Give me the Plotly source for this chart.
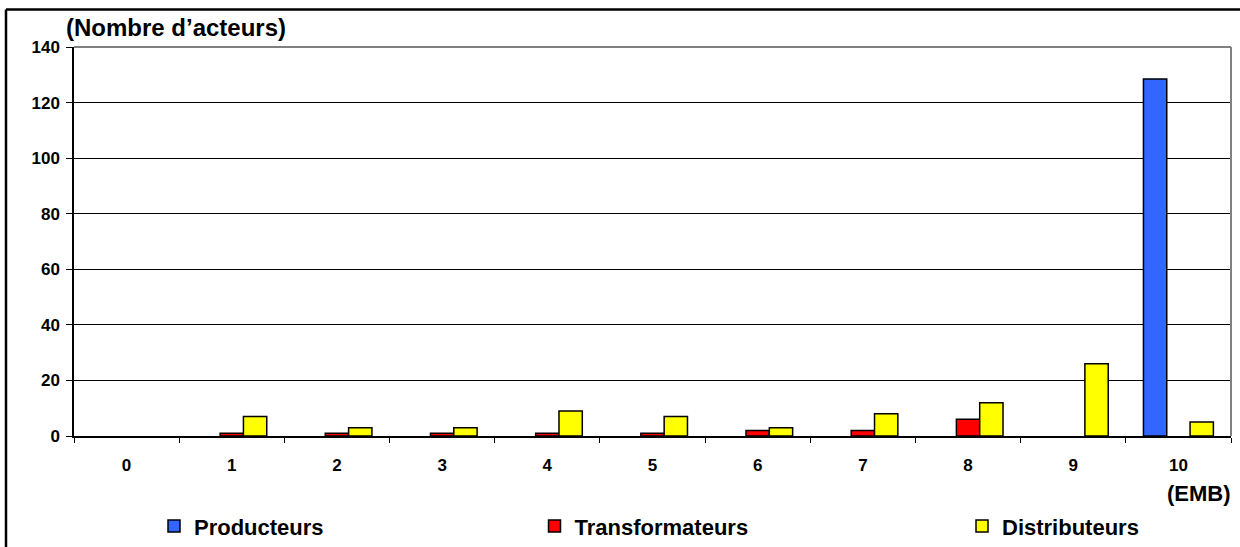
import plotly.graph_objects as go

categories = ["0", "1", "2", "3", "4", "5", "6", "7", "8", "9", "10"]
producteurs = [0, 0, 0, 0, 0, 0, 0, 0, 0, 0, 128.5]
transformateurs = [0, 1, 1, 1, 1, 1, 2, 2, 6, 0, 0]
distributeurs = [0, 7, 3, 3, 9, 7, 3, 8, 12, 26, 5]
y_ticks = [0, 20, 40, 60, 80, 100, 120, 140]

FONT = "Liberation Sans, Arial, sans-serif"
W, H = 1240, 547
L, R, T, B = 74, 9, 46.5, 110.5
PW = W - L - R
PH = H - T - B

def px_x(px):
    return (px - L) / PW

def px_y(py):
    return (H - B - py) / PH

def nz(vals):
    # zero-height bars are not drawn in the reference
    return [v if v else None for v in vals]

fig = go.Figure()
fig.add_trace(go.Bar(x=categories, y=nz(producteurs), name="Producteurs",
                     marker=dict(color="#3366FF", line=dict(color="black", width=1.5)),
                     legend="legend"))
fig.add_trace(go.Bar(x=categories, y=nz(transformateurs), name="Transformateurs",
                     marker=dict(color="#FF0000", line=dict(color="black", width=1.5)),
                     legend="legend2"))
fig.add_trace(go.Bar(x=categories, y=nz(distributeurs), name="Distributeurs",
                     marker=dict(color="#FFFF00", line=dict(color="black", width=1.5)),
                     legend="legend3"))

legend_common = dict(orientation="h", yanchor="middle", xanchor="left",
                     bgcolor="rgba(0,0,0,0)",
                     font=dict(family=FONT, size=22, color="black", weight="bold"))
fig.update_layout(
    width=W, height=H,
    margin=dict(l=L, r=R, t=T, b=B, autoexpand=False),
    paper_bgcolor="white", plot_bgcolor="white",
    barmode="group", bargap=0.335, bargroupgap=0,
    showlegend=True,
    legend=dict(x=px_x(154), y=px_y(527), **legend_common),
    legend2=dict(x=px_x(534.5), y=px_y(527), **legend_common),
    legend3=dict(x=px_x(962), y=px_y(527), **legend_common),
    xaxis=dict(type="category", tickson="boundaries", ticks="outside", ticklen=5,
               tickcolor="black", showline=True, linecolor="black", linewidth=1.5,
               showgrid=False, ticklabelstandoff=13,
               tickfont=dict(family=FONT, size=17, color="black", weight="bold")),
    yaxis=dict(range=[0, 140], tickvals=y_ticks, ticks="outside", ticklen=6,
               tickcolor="black", showline=True, linecolor="black", linewidth=1.5,
               showgrid=True, gridcolor="black", gridwidth=1, zeroline=False,
               ticklabelstandoff=3,
               tickfont=dict(family=FONT, size=17, color="black", weight="bold")),
    annotations=[
        dict(text="(Nombre d’acteurs)", xref="paper", yref="paper",
             x=px_x(64), y=px_y(27), xanchor="left", yanchor="middle",
             showarrow=False, font=dict(family=FONT, size=24, color="black", weight="bold")),
        dict(text="(EMB)", xref="paper", yref="paper",
             x=px_x(1233), y=px_y(494), xanchor="right", yanchor="middle",
             showarrow=False, font=dict(family=FONT, size=22, color="black", weight="bold")),
    ],
    shapes=[
        dict(type="line", xref="paper", yref="paper", x0=0, x1=1, y0=1, y1=1,
             line=dict(color="#808080", width=2), layer="above"),
        dict(type="line", xref="paper", yref="paper", x0=1, x1=1, y0=0, y1=1,
             line=dict(color="#808080", width=2), layer="above"),
        dict(type="line", xref="paper", yref="paper", x0=px_x(6), x1=px_x(6),
             y0=px_y(9), y1=px_y(560), line=dict(color="black", width=2.5)),
        dict(type="line", xref="paper", yref="paper", x0=px_x(6), x1=px_x(1250),
             y0=px_y(9), y1=px_y(9), line=dict(color="black", width=2.5)),
    ],
)

fig.write_html("out.html", config={"displayModeBar": False},
               post_script="document.body.style.margin='0';")
